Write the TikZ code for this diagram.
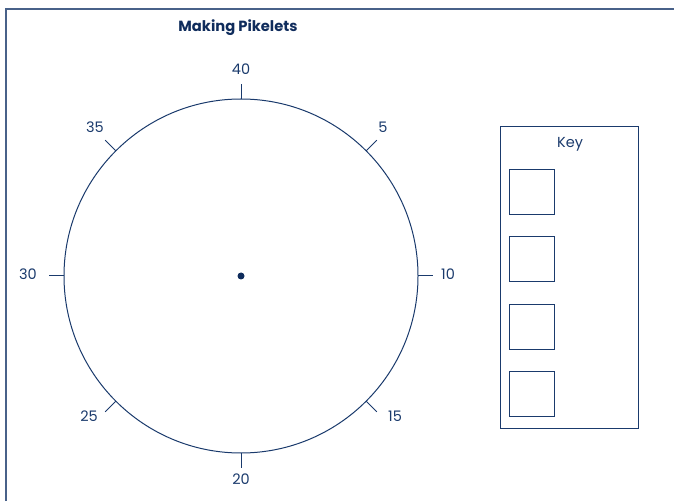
\documentclass[tikz,border=0pt]{standalone}
\usepackage{fontspec}
\setmainfont{Poppins}
\usetikzlibrary{positioning,calc}
\definecolor{pkNavy}{HTML}{1A3A6C}
\definecolor{pkInk}{HTML}{0F2C5C}
\tikzset{
  pk frame/.style={draw=pkNavy!80, line width=1.5pt},
  pk line/.style={draw=pkNavy, line width=1pt},
  pk tick/.style={draw=pkNavy, line width=1pt},
  pk num/.style={font=\fontsize{14.5}{16}\selectfont, text=pkNavy, inner sep=0pt},
  pk title/.style={font=\bfseries\fontsize{14.7}{16}\selectfont, text=pkInk, inner sep=0pt},
  pk box/.style={draw=pkNavy, line width=1pt, minimum size=45pt, inner sep=0pt},
}
\begin{document}
\begin{tikzpicture}[x=1pt,y=1pt]
\useasboundingbox (0,0) rectangle (674,501);
\draw[pk frame](6,0)--(6,492)--(674,492);
\node[pk title](title)at(238,473){Making Pikelets};
% clock face
\coordinate (c) at (241,225);
\draw[pk line](c)circle(177);
\fill[pkInk](c)circle(3.5);
\foreach \k in {0,...,7}{\draw[pk tick]($(c)+(90-45*\k:177)$)--($(c)+(90-45*\k:192)$);}
\foreach \v/\dx/\dy in {40/0/207,5/142/149,10/207/2,15/154/-140,20/0/-203,25/-152/-140,30/-213/2,35/-146/149}{
  \node[pk num](n\v)at($(c)+(\dx,\dy)$){\v};}
% key
\draw[pk line](500,73)rectangle(638,374);
\node[pk num](key)at(570,357){Key};
\foreach \y [count=\i] in {308.5,241.5,174.5,107.5}{\node[pk box](k\i)at(531.5,\y){};}
\end{tikzpicture}
\end{document}
